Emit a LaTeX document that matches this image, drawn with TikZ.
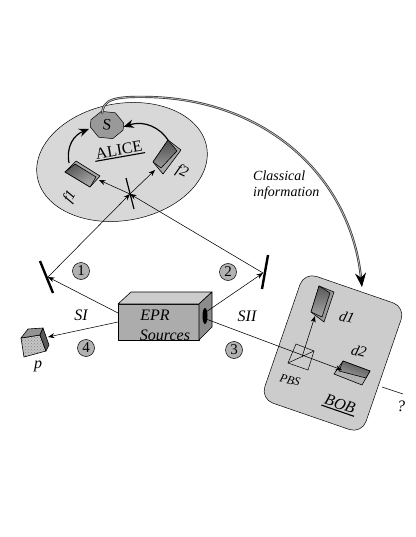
\documentclass[tikz,border=0pt]{standalone}
\usepackage{fontspec}
\setmainfont{Liberation Serif}
\usepackage{tikz}
\usetikzlibrary{arrows.meta,positioning,shapes.geometric,shapes.misc,patterns}
\definecolor{zone}{HTML}{D8D8D8}
\definecolor{bobzone}{HTML}{CCCCCC}

\begin{document}
\begin{tikzpicture}[
  x=1pt, y=-1pt,
  beam/.style={-{Stealth[length=6.5pt,width=5pt]}, line width=0.55pt},
  curved/.style={-{Stealth[length=10pt,width=8.5pt]}, line width=1.2pt},
  mirror/.style={line width=2.4pt},
  face/.style={draw, line width=0.6pt, line join=round},
  num/.style={circle, draw, fill=gray!60, minimum size=17pt, inner sep=0pt,
              line width=0.5pt, font=\fontsize{15}{17}\selectfont},
  lab/.style={font=\fontsize{16}{18}\selectfont\itshape, inner sep=0pt},
  tag/.style={font=\fontsize{15}{17}\selectfont\itshape, inner sep=0pt},
  small/.style={font=\fontsize{14}{16}\selectfont\itshape, inner sep=0pt, align=left},
]
\useasboundingbox (0,0) rectangle (415,537);

% Zones
\node[ellipse, draw, fill=zone, line width=0.5pt, minimum width=172pt, minimum height=117pt,
      inner sep=0pt, rotate=10] (alice) at (122,162) {};
\node[rectangle, draw, fill=bobzone, line width=0.5pt, rounded corners=13pt, minimum width=107pt,
      minimum height=134pt, rotate=-19] (bob) at (333,353) {};

% Beam coordinates
\coordinate (bs) at (130,194);
\coordinate (mleft) at (48,277);
\coordinate (mright) at (263,273);
\coordinate (srcA) at (118,313);
\coordinate (srcB) at (118,322);
\coordinate (srcC) at (206,312);
\coordinate (srcD) at (206,319);
\coordinate (f1in) at (99,180);
\coordinate (f2in) at (155,170);
\coordinate (pin) at (48,337);
\coordinate (pbs) at (302,357);
\coordinate (d1in) at (315,316);
\coordinate (d2in) at (342,370);
\coordinate (out) at (382,387);
\coordinate (end) at (403,394);

% Mirrors
\draw[mirror] (40,261) -- (53,293);
\draw[mirror] (268,255) -- (262,289);
\draw[line width=1.2pt] (126,178) -- (134,209);

% EPR box
\draw[face, fill=gray!65] (118,304) -- (199,304) -- (199,340) -- (118,340) -- cycle;
\draw[face, fill=gray!40] (118,304) -- (131,292) -- (212,292) -- (199,304) -- cycle;
\draw[face, fill=gray!90] (199,304) -- (212,292) -- (212,327) -- (199,340) -- cycle;
\node[ellipse, fill=black, minimum width=5pt, minimum height=16pt, inner sep=0pt] (hole) at (205,316) {};
\node[lab] (epr) at (155,315) {EPR};
\node[lab] (sources) at (165,335) {Sources};

% Detector f1
\draw[face, fill=gray!70] (65,172) -- (76,161) -- (100,176) -- (90,187) -- cycle;
\draw[face, left color=black!65, right color=gray!65, shading angle=30] (65,172) -- (75,164) -- (96,177) -- (90,187) -- cycle;

% Detector f2
\draw[face, fill=gray!70] (153,162) -- (168,140) -- (181,150) -- (163,174) -- cycle;
\draw[face, top color=black!70, bottom color=gray!80] (153,162) -- (168,140) -- (177,151) -- (161,168) -- cycle;

% Detector d1
\draw[face, fill=gray!80] (311,312) -- (319,286) -- (334,292) -- (324,322) -- cycle;
\draw[face, top color=black!65, bottom color=gray!70] (311,312) -- (319,286) -- (330,293) -- (322,317) -- cycle;

% Detector d2
\draw[face, fill=gray!60] (334,374) -- (343,361) -- (370,371) -- (362,385) -- cycle;
\draw[face, left color=black!70, right color=gray!75, shading angle=-20] (339,371) -- (343,361) -- (370,371) -- (366,378) -- cycle;

% Detector p
\draw[face, preaction={fill=gray!45}, pattern=crosshatch dots, pattern color=gray] (21,338) -- (40,335) -- (46,351) -- (24,357) -- cycle;
\draw[face, fill=gray!85] (21,338) -- (28,329) -- (43,328) -- (40,335) -- cycle;
\draw[face, fill=black!65] (43,328) -- (49,345) -- (46,351) -- (40,335) -- cycle;

% PBS
\draw[line width=0.5pt] (296,344) -- (314,351) -- (308,370) -- (288,363) -- cycle;
\draw[line width=0.5pt] (288,363) -- (314,351);

% Beams
\draw[beam] (srcA) -- (mleft);
\draw[beam] (mleft) -- (bs);
\draw[beam] (bs) -- (f2in);
\draw[beam] (srcC) -- (mright);
\draw[beam] (mright) -- (bs);
\draw[beam] (bs) -- (f1in);
\draw[beam] (srcB) -- (pin);
\draw[beam] (srcD) -- (d2in);
\draw[beam] (pbs) -- (d1in);
\draw[line width=0.5pt] (out) -- (end);

% Measurement
\node[chamfered rectangle, chamfered rectangle sep=5pt,
      chamfered rectangle corners={north west,north east,south west,south east},
      draw, fill=gray!80, line width=0.5pt, minimum width=33pt, minimum height=26pt, inner sep=0pt,
      rotate=-6, font=\fontsize{16}{18}\selectfont] (S) at (107,125) {S};
\coordinate (sLeft) at (89,129);
\draw[curved] (69,163) .. controls (66,146) and (74,135) .. (sLeft);
\draw[curved] (168,140) .. controls (160,128) and (145,120) .. (S.east);

% Classical channel
\coordinate (sTop) at (102,114);
\coordinate (bobTop) at (362,287);
\draw[draw=black!80, double=gray!55, double distance=0.8pt, line width=0.7pt,
      -{Stealth[length=14pt,width=11pt,black]}]
  (sTop) .. controls (103,100) and (112,96) .. (150,97)
         .. controls (265,100) and (350,175) .. (bobTop);

% Labels
\node[num] (one) at (81,271) {1};
\node[num] (two) at (228,272) {2};
\node[num] (three) at (234,350) {3};
\node[num] (four) at (86,348) {4};
\node[lab] (si) at (81,315) {SI};
\node[lab] (sii) at (247,316) {SII};
\node[lab] (plab) at (38,366) {p};
\node[lab] (qmark) at (401,406) {?};
\node[small] (classical) at (253,185) [right] {Classical\\information};
\node[font=\fontsize{16}{18}\selectfont, inner sep=1.5pt, rotate=10] (alicelab) at (119,150) {ALICE};
\draw[line width=1.1pt] (alicelab.south west) -- (alicelab.south east);
\node[font=\fontsize{16}{18}\selectfont\itshape, inner sep=1.5pt, rotate=-19] (boblab) at (340,404) {BOB};
\draw[line width=1.1pt] (boblab.south west) -- (boblab.south east);
\node[tag, rotate=60] (f1lab) at (70,197) {f1};
\node[tag, rotate=-25] (f2lab) at (182,172) {f2};
\node[tag, rotate=-15] (d1lab) at (347,317) {d1};
\node[tag, rotate=-15] (d2lab) at (359,351) {d2};
\node[font=\fontsize{12}{14}\selectfont\itshape, inner sep=0pt, rotate=-15] (pbslab) at (290,380) {PBS};
\end{tikzpicture}
\end{document}
